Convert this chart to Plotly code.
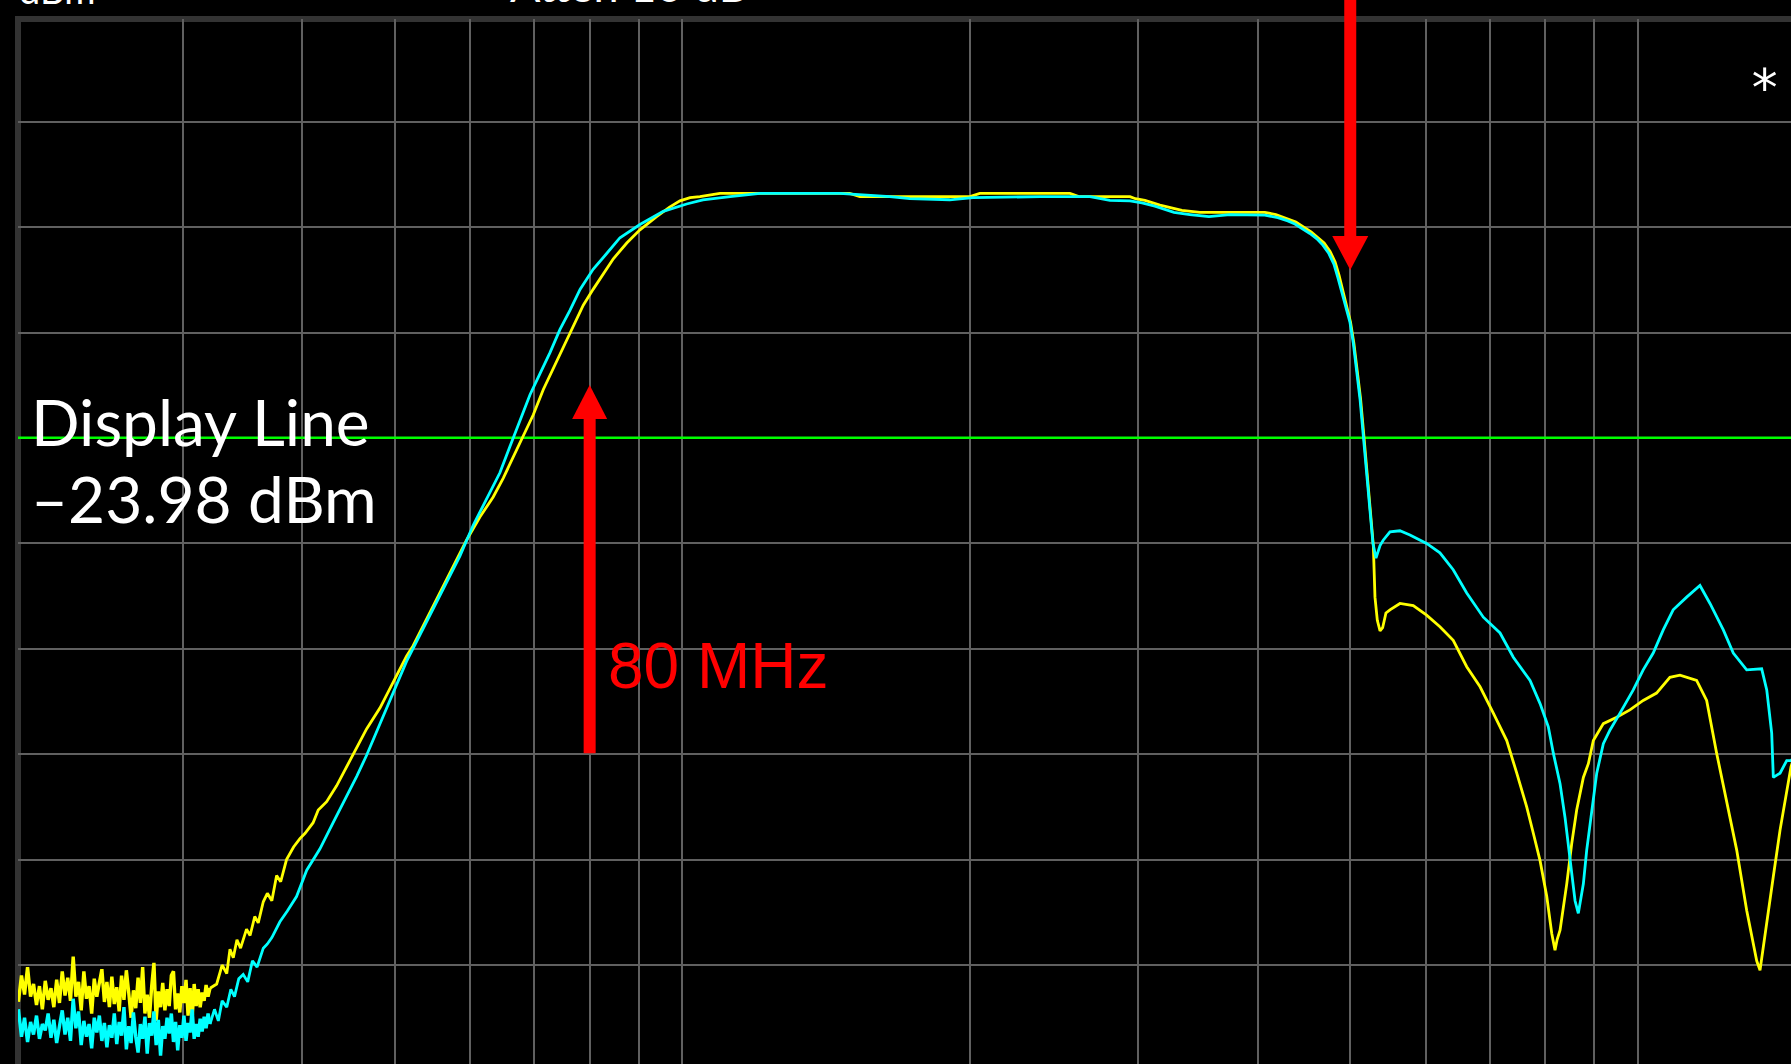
import math
import plotly.graph_objects as go

# ---------------- axis definition (values) ----------------
X_RANGE_MHZ = [20.18, 1446.0]          # visible part of the log sweep
Y_RANGE_DBM = [-83.39, 15.75]          # visible part of 10 dB/div scale
X_GRID_MHZ = [30, 40, 50, 60, 70, 80, 90, 100, 200, 300, 400, 500, 600, 700, 800, 900, 1000]
Y_GRID_DBM = [6, -4, -14, -24, -34, -44, -54, -64, -74]
DISPLAY_LINE_DBM = -23.98

# ---------------- marker arrows (values) ----------------
LOW_MARK_MHZ = 80
LOW_TIP_DBM = -18.97
LOW_TAIL_DBM = -53.9
HIGH_MARK_MHZ = 500
HIGH_TIP_DBM = -8.06

# ---------------- noise floor ----------------
NOISE_FREQ_MHZ = [20.20, 20.35, 20.50, 20.65, 20.80, 20.95, 21.10, 21.25, 21.40, 21.55,
                  21.70, 21.85, 22.00, 22.15, 22.30, 22.45, 22.60, 22.75, 22.90, 23.05,
                  23.20, 23.35, 23.50, 23.65, 23.80, 23.95, 24.10, 24.25, 24.40, 24.55,
                  24.70, 24.85, 25.00, 25.15, 25.30, 25.45, 25.60, 25.75, 25.90, 26.05,
                  26.20, 26.35, 26.50, 26.65, 26.80, 26.95, 27.10, 27.25, 27.40, 27.55,
                  27.70, 27.85, 28.00, 28.15, 28.30, 28.45, 28.60, 28.75, 28.90, 29.05,
                  29.20, 29.35, 29.50, 29.65, 29.80, 29.95, 30.10, 30.25, 30.40, 30.55,
                  30.70, 30.85, 31.00, 31.15, 31.30, 31.45, 31.60, 31.75, 31.90, 32.05]
YELLOW_NOISE_DBM = [-77.5, -75.0, -76.8, -74.2, -77.0, -75.8, -77.8, -76.0, -78.2, -75.5,
                    -77.3, -76.2, -78.0, -75.4, -77.6, -74.6, -76.9, -75.2, -77.4, -73.2,
                    -77.0, -75.6, -78.3, -74.6, -77.2, -76.0, -78.6, -75.3, -77.0, -75.8,
                    -74.4, -77.5, -75.6, -78.0, -75.1, -77.7, -76.1, -78.4, -75.0, -77.3,
                    -74.5, -76.6, -79.0, -76.4, -78.1, -75.2, -77.6, -74.2, -78.6, -76.8,
                    -79.0, -76.0, -73.8, -79.3, -76.5, -78.0, -75.7, -78.3, -76.3, -77.9,
                    -75.0, -74.6, -78.2, -76.7, -78.5, -76.0, -77.6, -75.4, -78.8, -76.2,
                    -79.1, -75.8, -77.9, -76.3, -78.0, -76.6, -77.4, -75.9, -77.0, -76.2]
CYAN_NOISE_DBM = [-78.2, -80.8, -79.0, -81.3, -79.4, -80.6, -78.8, -81.0, -79.6, -80.2,
                  -78.6, -80.9, -79.2, -81.4, -79.8, -78.3, -80.6, -79.0, -81.2, -77.2,
                  -80.0, -78.4, -81.6, -79.3, -80.8, -79.6, -81.9, -79.0, -80.4, -78.8,
                  -81.2, -79.5, -81.8, -79.7, -80.9, -78.6, -81.5, -79.4, -80.7, -78.0,
                  -82.0, -79.8, -81.4, -78.5, -80.8, -82.3, -79.6, -81.0, -78.9, -82.4,
                  -79.5, -80.7, -78.4, -81.6, -79.2, -82.6, -79.8, -81.0, -79.0, -80.5,
                  -78.6, -81.3, -79.4, -82.1, -79.7, -80.9, -78.8, -81.2, -79.5, -80.4,
                  -78.2, -81.0, -79.6, -80.8, -79.1, -80.3, -78.9, -80.0, -78.6, -79.6]

# ---------------- filter response, yellow trace ----------------
YELLOW_FREQ_MHZ = [32.57, 33.0, 33.37, 33.63, 33.9, 34.2, 34.5, 35.0, 35.3, 35.7,
                   36.0, 36.44, 36.8, 37.2, 37.63, 38.0, 38.54, 39.2, 39.8, 40.3,
                   41.09, 41.6, 42.45, 43.48, 44.3, 45.25, 46.74, 48.28, 49.83, 51.46,
                   52.29, 54.01, 55.79, 57.61, 59.46, 61.41, 63.41, 64.97, 66.55, 68.17,
                   69.84, 71.55, 73.28, 75.07, 76.90, 78.78, 80.67, 82.63, 84.70, 87.48,
                   90.31, 94.0, 97.0, 99.45, 101.9, 104.35, 109.5, 149.7, 153.4, 186.0,
                   200.0, 204.8, 254.5, 260.0, 294.1, 298.0, 304.9, 316.1, 323.8, 333.3,
                   348.0, 407.0, 418.0, 430.2, 438.6, 446.2, 455.0, 462.7, 469.5, 476.3,
                   482.1, 486.8, 490.8, 495.5, 500.3, 504.4, 508.5, 512.6, 516.7, 520.9,
                   525.0, 528.6, 529.8, 530.7, 533.7, 537.2, 540.6, 544.9, 550.2, 563.6,
                   582.0, 601.0, 620.6, 640.8, 662.0, 683.6, 705.8, 729.0, 746.8, 764.9,
                   777.2, 789.9, 802.8, 812.5, 818.9, 823.0, 828.9, 842.4, 852.5, 862.8,
                   876.8, 887.4, 898.1, 920.0, 950.1, 980.9, 1012.8, 1045.9, 1080.1, 1106.6,
                   1151.9, 1180.1, 1208.8, 1238.4, 1268.7, 1299.5, 1331.3, 1342.0, 1358.3, 1385.7,
                   1408.3, 1431.2, 1446.0, 1465.0]
YELLOW_DBM = [-75.8, -74.0, -74.8, -72.5, -73.3, -71.6, -72.4, -70.6, -71.2, -69.4,
              -70.0, -68.0, -67.2, -67.9, -65.5, -66.1, -64.0, -62.8, -62.0, -61.5,
              -60.5, -59.3, -58.5, -57.0, -55.6, -54.1, -51.6, -49.6, -47.1, -44.7,
              -43.7, -41.2, -38.7, -36.2, -33.7, -31.5, -29.6, -27.8, -25.8, -23.8,
              -21.8, -19.4, -17.4, -15.4, -13.4, -11.4, -9.9, -8.5, -7.0, -5.5,
              -4.25, -3.0, -2.1, -1.5, -1.2, -1.1, -0.8, -0.8, -1.1, -1.1,
              -1.1, -0.8, -0.8, -1.1, -1.1, -1.3, -1.46, -1.9, -2.1, -2.4,
              -2.6, -2.6, -2.8, -3.2, -3.5, -3.95, -4.45, -5.0, -5.5, -6.3,
              -7.3, -8.6, -10.0, -11.4, -13.0, -15.0, -17.5, -20.3, -23.8, -27.4,
              -31.2, -34.2, -37.0, -39.1, -41.3, -42.3, -42.0, -40.6, -40.3, -39.7,
              -39.9, -40.8, -41.9, -43.2, -45.7, -47.6, -50.1, -52.7, -55.8, -59.0,
              -61.5, -64.1, -67.5, -71.0, -72.6, -71.6, -70.7, -66.3, -62.5, -59.3,
              -56.2, -54.9, -52.7, -51.1, -50.5, -49.8, -48.9, -48.2, -46.7, -46.5,
              -47.0, -48.9, -53.9, -58.4, -63.1, -68.8, -73.6, -74.5, -71.0, -65.6,
              -61.2, -57.7, -55.2, -53.5]

# ---------------- filter response, cyan trace ----------------
CYAN_FREQ_MHZ = [32.4, 32.7, 33.0, 33.37, 33.7, 34.0, 34.35, 34.72, 35.1, 35.5,
                 35.9, 36.44, 36.8, 37.2, 37.93, 38.6, 39.48, 40.46, 41.76, 43.12,
                 44.54, 45.64, 46.74, 48.28, 49.83, 51.46, 53.14, 54.88, 56.66, 58.52,
                 60.41, 62.41, 64.44, 66.02, 67.63, 69.29, 70.98, 72.71, 74.48, 76.29,
                 78.17, 80.67, 83.35, 86.06, 90.31, 95.52, 101.06, 105.1, 112.2, 120.6,
                 146.2, 157.9, 164.9, 173.0, 190.5, 201.5, 236.8, 267.1, 280.2, 294.1,
                 302.7, 312.3, 319.9, 327.0, 339.8, 355.7, 374.2, 407.0, 420.0, 430.2,
                 437.6, 445.0, 453.7, 461.4, 468.1, 474.9, 480.7, 485.4, 490.0, 494.8,
                 499.6, 503.7, 507.8, 511.9, 516.0, 520.2, 524.3, 528.1, 532.0, 537.2,
                 541.3, 550.2, 563.6, 577.4, 601.0, 620.6, 640.8, 662.0, 689.0, 717.3,
                 740.6, 771.1, 789.9, 805.8, 815.6, 828.9, 838.9, 849.0, 859.4, 866.2,
                 876.8, 883.9, 894.7, 905.5, 920.0, 935.0, 957.7, 988.8, 1012.8, 1037.5,
                 1062.9, 1088.6, 1124.6, 1161.2, 1189.6, 1228.4, 1258.3, 1299.5, 1347.4, 1363.9,
                 1380.3, 1385.7, 1408.3, 1431.2, 1446.0, 1465.0]
CYAN_DBM = [-78.2, -79.3, -77.4, -78.0, -76.3, -77.0, -75.3, -74.9, -75.6, -73.6,
            -74.2, -72.4, -72.0, -71.4, -69.9, -68.9, -67.5, -65.0, -63.0, -60.5,
            -58.0, -56.1, -54.1, -51.1, -48.1, -45.2, -42.7, -40.2, -37.7, -35.2,
            -32.3, -29.8, -27.3, -24.8, -22.3, -19.9, -17.9, -15.9, -13.7, -11.9,
            -9.9, -8.0, -6.5, -5.0, -3.75, -2.5, -1.8, -1.4, -1.1, -0.8,
            -0.8, -0.95, -1.1, -1.3, -1.4, -1.2, -1.1, -1.1, -1.45, -1.5,
            -1.7, -2.0, -2.3, -2.6, -2.8, -3.0, -2.8, -2.85, -3.1, -3.4,
            -3.7, -4.1, -4.6, -5.1, -5.7, -6.5, -7.5, -8.8, -10.1, -11.5,
            -13.0, -15.0, -17.5, -20.3, -23.8, -27.4, -31.2, -34.0, -35.4, -34.2,
            -33.7, -32.9, -32.8, -33.2, -34.0, -34.9, -36.5, -38.7, -41.0, -42.5,
            -44.8, -47.0, -49.2, -51.4, -53.9, -56.8, -60.0, -64.1, -67.9, -69.1,
            -66.3, -63.1, -59.3, -55.8, -53.0, -51.7, -50.1, -47.9, -46.0, -44.4,
            -42.2, -40.3, -39.1, -38.0, -39.7, -42.2, -44.4, -46.0, -45.9, -47.9,
            -52.0, -56.2, -55.8, -54.6, -54.6, -54.0]

# ---------------- text ----------------
DISPLAY_TEXT = ["Display Line", "–23.98 dBm"]
LOW_MARK_TEXT = "80 MHz"
TOP_TEXTS = ["dBm", "Atten 10 dB"]

YELLOW = "#ffff00"
CYAN = "#00ffff"
RED = "#ff0000"
GRID = "#606060"
FRAME = "#333333"
GREEN = "#00ff00"
SCREEN_FONT = "Lato, Liberation Sans, sans-serif"

fig = go.Figure()
fig.add_trace(go.Scatter(x=NOISE_FREQ_MHZ, y=YELLOW_NOISE_DBM, mode="lines",
                         line=dict(color=YELLOW, width=3.4), hoverinfo="skip", showlegend=False))
fig.add_trace(go.Scatter(x=NOISE_FREQ_MHZ[-1:] + YELLOW_FREQ_MHZ, y=YELLOW_NOISE_DBM[-1:] + YELLOW_DBM,
                         mode="lines", line=dict(color=YELLOW, width=2.8), hoverinfo="skip",
                         showlegend=False))
fig.add_trace(go.Scatter(x=NOISE_FREQ_MHZ, y=CYAN_NOISE_DBM, mode="lines",
                         line=dict(color=CYAN, width=3.4), hoverinfo="skip", showlegend=False))
fig.add_trace(go.Scatter(x=NOISE_FREQ_MHZ[-1:] + CYAN_FREQ_MHZ, y=CYAN_NOISE_DBM[-1:] + CYAN_DBM,
                         mode="lines", line=dict(color=CYAN, width=2.8), hoverinfo="skip",
                         showlegend=False))


def paper_y(db):
    return (db - Y_RANGE_DBM[0]) / (Y_RANGE_DBM[1] - Y_RANGE_DBM[0])


shapes = [
    # instrument frame (left + top border)
    dict(type="rect", xref="paper", yref="paper", x0=0, x1=1.2, y0=-0.2, y1=1,
         line=dict(color=FRAME, width=6), fillcolor="rgba(0,0,0,0)", layer="below"),
    # display line
    dict(type="line", xref="x", yref="y", x0=X_RANGE_MHZ[0] * 0.9, x1=X_RANGE_MHZ[1] * 1.1,
         y0=DISPLAY_LINE_DBM, y1=DISPLAY_LINE_DBM, line=dict(color=GREEN, width=2.5),
         layer="between"),
    # 80 MHz arrow (pointing up)
    dict(type="line", xref="x", yref="y", x0=LOW_MARK_MHZ, x1=LOW_MARK_MHZ,
         y0=LOW_TAIL_DBM, y1=LOW_TIP_DBM - 3.0, line=dict(color=RED, width=12), layer="above"),
    dict(type="path", xref="x", yref="y", xsizemode="pixel", ysizemode="pixel",
         xanchor=LOW_MARK_MHZ, yanchor=LOW_TIP_DBM, path="M -17.5,-34 L 17.5,-34 L 0,0 Z",
         fillcolor=RED, line=dict(color=RED, width=0), layer="above"),
    # 500 MHz arrow (pointing down, coming from above the screen)
    dict(type="line", xref="x", yref="paper", ysizemode="pixel", yanchor=paper_y(HIGH_TIP_DBM),
         x0=HIGH_MARK_MHZ, x1=HIGH_MARK_MHZ, y0=30, y1=400,
         line=dict(color=RED, width=12), layer="above"),
    dict(type="path", xref="x", yref="y", xsizemode="pixel", ysizemode="pixel",
         xanchor=HIGH_MARK_MHZ, yanchor=HIGH_TIP_DBM, path="M -18,34 L 18,34 L 0,0 Z",
         fillcolor=RED, line=dict(color=RED, width=0), layer="above"),
]

annotations = [
    dict(xref="paper", yref="y", x=0, y=-22.45, xanchor="left", yanchor="middle", xshift=12,
         text=DISPLAY_TEXT[0], showarrow=False, borderpad=0,
         font=dict(family=SCREEN_FONT, size=64, color="white")),
    dict(xref="paper", yref="y", x=0, y=-29.75, xanchor="left", yanchor="middle", xshift=12,
         text=DISPLAY_TEXT[1], showarrow=False, borderpad=0,
         font=dict(family=SCREEN_FONT, size=64, color="white")),
    dict(xref="x", yref="y", x=math.log10(LOW_MARK_MHZ), y=-45.64, xanchor="left", yanchor="middle",
         xshift=16, text=LOW_MARK_TEXT, showarrow=False,
         font=dict(family="Liberation Sans, Arial, sans-serif", size=64, color=RED)),
    dict(xref="paper", yref="paper", x=0, y=1, xanchor="left", yanchor="bottom", xshift=-1,
         yshift=5, text=TOP_TEXTS[0], showarrow=False,
         font=dict(family=SCREEN_FONT, size=38, color="white")),
    dict(xref="paper", yref="paper", x=0.2764, y=1, xanchor="left", yanchor="bottom",
         yshift=5, text=TOP_TEXTS[1], showarrow=False,
         font=dict(family=SCREEN_FONT, size=45, color="white")),
    dict(xref="paper", yref="y", x=0.9853, y=9.96, xanchor="center", yanchor="middle", yshift=-8,
         text="*", showarrow=False, font=dict(family="DejaVu Sans Mono", size=52, color="white")),
]

fig.update_layout(
    width=1791, height=1064,
    margin=dict(l=18, r=0, t=19, b=0, pad=0),
    paper_bgcolor="black", plot_bgcolor="rgba(0,0,0,0)",
    showlegend=False,
    shapes=shapes, annotations=annotations,
    xaxis=dict(type="log", range=[math.log10(X_RANGE_MHZ[0]), math.log10(X_RANGE_MHZ[1])],
               tickmode="array", tickvals=X_GRID_MHZ, showticklabels=False, ticks="",
               showgrid=True, gridcolor=GRID, gridwidth=2, zeroline=False, showline=False,
               fixedrange=True),
    yaxis=dict(range=Y_RANGE_DBM, tickmode="array", tickvals=Y_GRID_DBM, showticklabels=False,
               ticks="", showgrid=True, gridcolor=GRID, gridwidth=2, zeroline=False,
               showline=False, fixedrange=True),
)

fig.write_html("out.html", config={"displayModeBar": False},
               post_script="document.body.style.margin='0';document.body.style.background='black';")
